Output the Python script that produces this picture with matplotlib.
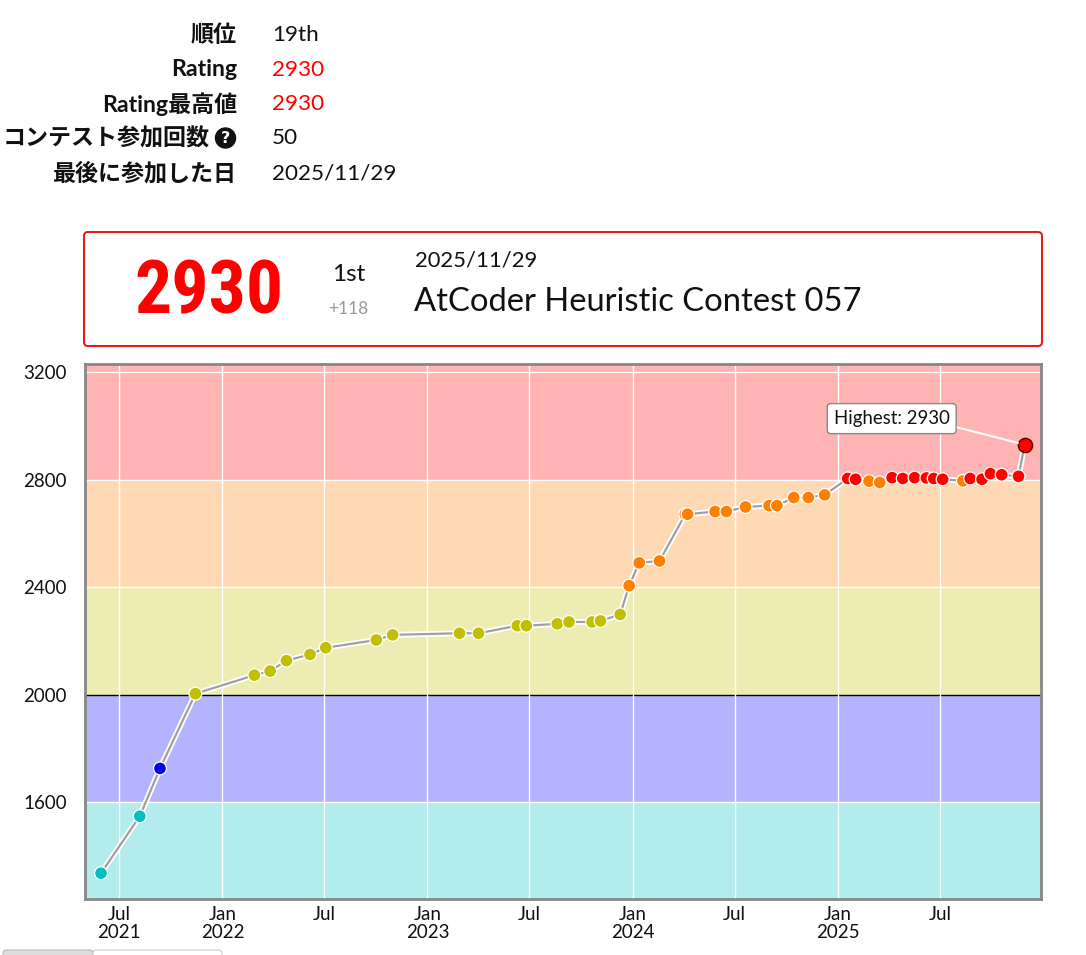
import matplotlib
matplotlib.use("Agg")
import matplotlib.pyplot as plt
import matplotlib.dates as mdates
from matplotlib.patches import FancyBboxPatch, Rectangle, Circle
from datetime import datetime

# ---------------- data ----------------
contest_dates = [
    "2021-05-30", "2021-08-07", "2021-09-12", "2021-11-14", "2022-02-27",
    "2022-03-27", "2022-04-25", "2022-06-06", "2022-07-04", "2022-10-02",
    "2022-10-31", "2023-02-27", "2023-04-02", "2023-06-10", "2023-06-26",
    "2023-08-20", "2023-09-10", "2023-10-21", "2023-11-05", "2023-12-10",
    "2023-12-26", "2024-01-13", "2024-02-18", "2024-04-04", "2024-04-08",
    "2024-05-27", "2024-06-16", "2024-07-20", "2024-08-31", "2024-09-14",
    "2024-10-14", "2024-11-09", "2024-12-08", "2025-01-18", "2025-02-01",
    "2025-02-25", "2025-03-16", "2025-04-07", "2025-04-26", "2025-05-17",
    "2025-06-07", "2025-06-20", "2025-07-06", "2025-08-11", "2025-08-24",
    "2025-09-14", "2025-09-29", "2025-10-19", "2025-11-18", "2025-11-29",
]
ratings = [
    1335, 1547, 1725, 2003, 2072,
    2087, 2126, 2149, 2174, 2203,
    2222, 2228, 2228, 2256, 2256,
    2263, 2270, 2270, 2274, 2298,
    2405, 2490, 2497, 2671, 2671,
    2681, 2681, 2698, 2703, 2703,
    2733, 2733, 2743, 2804, 2801,
    2794, 2789, 2807, 2804, 2807,
    2806, 2804, 2801, 2795, 2804,
    2801, 2822, 2818, 2812, 2930,
]

profile_labels = ["順位", "Rating", "Rating最高値", "コンテスト参加回数", "最後に参加した日"]
profile_values = ["19th", "2930", "2930", "50", "2025/11/29"]
profile_value_red = [False, True, True, False, False]

card_rating = "2930"
card_place = "1st"
card_delta = "+118"
card_date = "2025/11/29"
card_contest = "AtCoder Heuristic Contest 057"

ytick_values = [1600, 2000, 2400, 2800, 3200]
xtick_dates = ["2021-07-01", "2022-01-01", "2022-07-01", "2023-01-01", "2023-07-01",
               "2024-01-01", "2024-07-01", "2025-01-01", "2025-07-01"]
xtick_labels = ["Jul\n2021", "Jan\n2022", "Jul", "Jan\n2023", "Jul",
                "Jan\n2024", "Jul", "Jan\n2025", "Jul"]

band_lows = [0, 400, 800, 1200, 1600, 2000, 2400, 2800]
band_highs = [400, 800, 1200, 1600, 2000, 2400, 2800, 10000]
band_colors = ["#D9D9D9", "#D9C5B3", "#B3D9B3", "#B3ECEC", "#B3B3FF", "#ECECB3", "#FFD9B3", "#FFB3B3"]
rank_colors = ["#808080", "#804000", "#008000", "#00C0C0", "#0000FF", "#C0C000", "#FF8000", "#FF0000"]

# ---------------- helpers ----------------
def rank_color(r):
    for lo, hi, c in zip(band_lows, band_highs, rank_colors):
        if lo <= r < hi:
            return c
    return rank_colors[-1]

dates = [datetime.strptime(d, "%Y-%m-%d") for d in contest_dates]
xt = [datetime.strptime(d, "%Y-%m-%d") for d in xtick_dates]

LATIN = ["Lato", "Noto Sans CJK JP", "DejaVu Sans"]
plt.rcParams["font.family"] = LATIN

W, H = 1086, 955
fig = plt.figure(figsize=(W / 100, H / 100), dpi=100)
fig.patch.set_facecolor("white")

# overlay axes in pixel coordinates for page furniture
ov = fig.add_axes([0, 0, 1, 1], zorder=0)
ov.set_xlim(0, W)
ov.set_ylim(H, 0)
ov.axis("off")

# profile table
row_y = [35, 70, 104, 138, 173]
for i, (lab, val, red) in enumerate(zip(profile_labels, profile_values, profile_value_red)):
    lx = 237 if i != 3 else 210
    ov.text(lx, row_y[i], lab, ha="right", va="center", fontsize=16.6,
            fontweight="bold", family=LATIN, color="#111")
    ov.text(272, row_y[i], val, ha="left", va="center", fontsize=16.2,
            family=LATIN, color="#FF0000" if red else "#111")
ov.add_patch(Circle((225.5, 138), 10, color="#111"))
ov.text(225.5, 138.5, "?", ha="center", va="center", fontsize=11.5, fontweight="bold",
        color="white", family=["DejaVu Sans"])

# card
ov.add_patch(FancyBboxPatch((84, 232), 958, 114, boxstyle="round,pad=0,rounding_size=4",
                            fc="white", ec="#EE1111", lw=1.4))
ov.text(209, 293, card_rating, ha="center", va="center", fontsize=53, fontweight="heavy",
        fontstretch="condensed", color="#FF0000",
        family=["Roboto Condensed", "Liberation Sans Narrow", "DejaVu Sans"])
ov.text(349, 274, card_place, ha="center", va="center", fontsize=17.5, color="#111", family=LATIN)
ov.text(348, 309, card_delta, ha="center", va="center", fontsize=12.5, color="#999999", family=LATIN)
ov.text(415, 260, card_date, ha="left", va="center", fontsize=15.8, color="#111", family=LATIN)
ov.text(414, 302, card_contest, ha="left", va="center", fontsize=23.6, color="#111", family=LATIN)

# bottom tabs (cut off)
ov.add_patch(FancyBboxPatch((3, 950), 90, 10, boxstyle="round,pad=0,rounding_size=3",
                            fc="#DDDDDD", ec="#BBBBBB", lw=0.8))
ov.add_patch(FancyBboxPatch((93, 950), 129, 10, boxstyle="round,pad=0,rounding_size=3",
                            fc="white", ec="#CCCCCC", lw=0.8))

# ---------------- chart ----------------
ax = fig.add_axes([85 / W, 56 / H, 956 / W, 535 / H], zorder=2)
ax.set_xlim(datetime(2021, 5, 1, 12), datetime(2025, 12, 28))
ax.set_ylim(1239, 3230)

for lo, hi, c in zip(band_lows, band_highs, band_colors):
    ax.axhspan(lo, hi, color=c, lw=0, zorder=0)
for y in ytick_values:
    ax.axhline(y, color="black" if y == 2000 else "white", lw=1.0, zorder=1)
for d in xt:
    ax.axvline(d, color="white", lw=1.0, zorder=1)

ax.plot(dates, ratings, color="white", lw=4.2, zorder=3, solid_joinstyle="round")
ax.plot(dates, ratings, color="#A0A0A0", lw=1.6, zorder=4, solid_joinstyle="round")

imax = max(range(len(ratings)), key=lambda i: (ratings[i], i))
others = [i for i in range(len(ratings)) if i != imax]
ax.scatter([dates[i] for i in others], [ratings[i] for i in others], s=86,
           c=[rank_color(ratings[i]) for i in others], edgecolors="white",
           linewidths=0.9, zorder=5)
ax.scatter([dates[imax]], [ratings[imax]], s=105, c=[rank_color(ratings[imax])],
           edgecolors="#550000", linewidths=1.0, zorder=6)

ax.annotate(f"Highest: {ratings[imax]}", xy=(dates[imax], ratings[imax]),
            xytext=(-133, 26), textcoords="offset pixels", ha="center", va="center",
            fontsize=13.4, color="#111", family=LATIN,
            bbox=dict(boxstyle="round,pad=0.35,rounding_size=0.2", fc="white", ec="#888888", lw=1.0),
            arrowprops=dict(arrowstyle="-", color="white", lw=1.5, relpos=(1.0, 0.1),
                            shrinkA=0, shrinkB=5),
            zorder=7)

ax.set_yticks(ytick_values)
ax.set_yticklabels([str(v) for v in ytick_values])
ax.set_xticks(xt)
ax.set_xticklabels(xtick_labels)
ax.tick_params(axis="both", length=0, labelsize=13.5, colors="#111")
ax.tick_params(axis="y", pad=13)
ax.tick_params(axis="x", pad=5)
for lab in ax.get_xticklabels() + ax.get_yticklabels():
    lab.set_family(LATIN)
    lab.set_linespacing(1.05)

for s in ax.spines.values():
    s.set_color("#888888")
    s.set_linewidth(2.0)
    s.set_zorder(8)

fig.savefig("out.png", dpi=100, facecolor="white")
